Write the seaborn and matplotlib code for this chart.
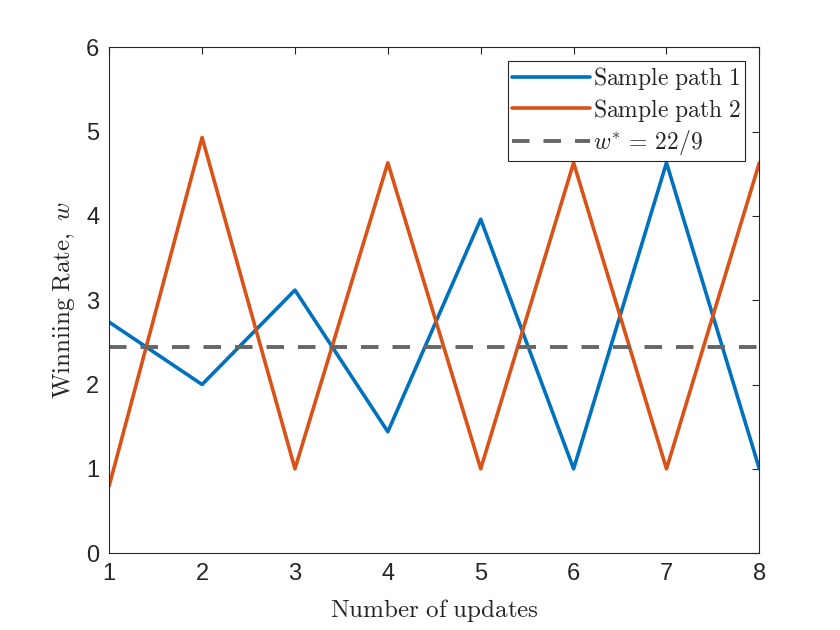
import numpy as np
import pandas as pd
import seaborn as sns
import matplotlib.pyplot as plt

sns.set_theme(style='white')
plt.rcParams['font.family'] = ['Liberation Sans', 'DejaVu Sans']
plt.rcParams['mathtext.fontset'] = 'cm'

updates = [1, 2, 3, 4, 5, 6, 7, 8]
path1 = [2.74, 2.00, 3.12, 1.44, 3.96, 1.00, 4.63, 1.00]
path2 = [0.80, 4.93, 1.00, 4.63, 1.00, 4.63, 1.00, 4.63]
w_star = 22 / 9

df = pd.DataFrame({'update': updates, 'path1': path1, 'path2': path2})

fig = plt.figure(figsize=(8.4, 6.3), dpi=100)
ax = fig.add_axes([0.13, 0.122, 0.774, 0.803])

sns.lineplot(data=df, x='update', y='path1', ax=ax, color='#0072BD', linewidth=2.6,
             label=r'$\mathrm{Sample\ path\ 1}$')
sns.lineplot(data=df, x='update', y='path2', ax=ax, color='#D95319', linewidth=2.6,
             label=r'$\mathrm{Sample\ path\ 2}$')
ax.axhline(w_star, color='#666666', linewidth=2.8, linestyle=(0, (4.5, 3.6)),
           label=r'$w^{*}\,=\,22/9$')

ax.set_xlim(1, 8)
ax.set_ylim(0, 6)
ax.set_xticks(updates)
ax.set_yticks(range(0, 7))
ax.tick_params(direction='in', length=5, width=0.8, labelsize=17, colors='#262626',
               top=True, right=True, pad=7)
for s in ax.spines.values():
    s.set_color('#262626')
    s.set_linewidth(0.8)

ax.set_xlabel(r'$\mathrm{Number\ of\ updates}$', fontsize=18, labelpad=9)
ax.set_ylabel(r'$\mathrm{Winniing\ Rate},\ w$', fontsize=18, labelpad=7)

leg = ax.legend(loc='upper right', fontsize=17, frameon=True, fancybox=False,
                edgecolor='#262626', framealpha=1, borderpad=0.15, handlelength=3.3,
                handletextpad=0.15, labelspacing=0.2, borderaxespad=0.6)
leg.get_frame().set_linewidth(0.8)

fig.savefig('out.png', dpi=100)
